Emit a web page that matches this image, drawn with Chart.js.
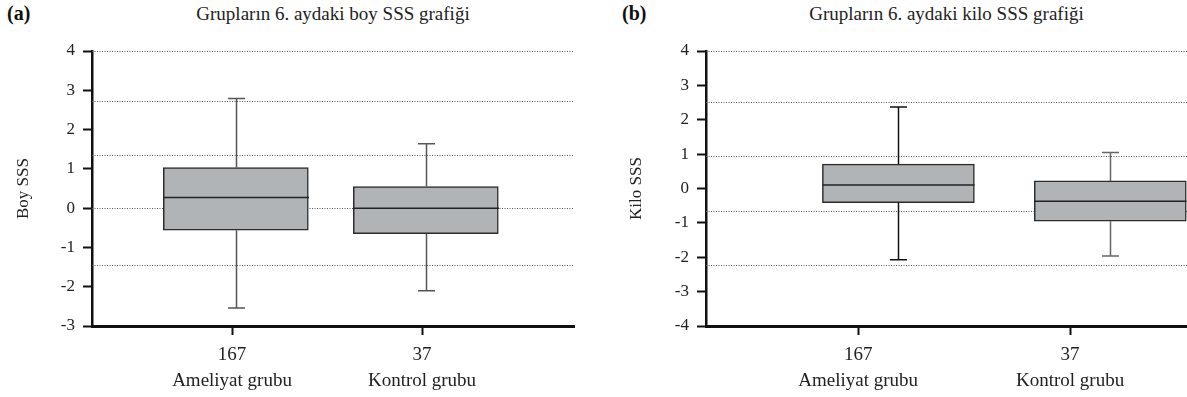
<!DOCTYPE html>
<html lang="tr">
<head>
<meta charset="utf-8">
<title>Grupların 6. aydaki boy ve kilo SSS grafiği</title>
<script src="https://cdn.jsdelivr.net/npm/chart.js@4.4.1/dist/chart.umd.min.js"></script>
<style>
  body { margin: 0; background: #fff; }
  #wrap { position: relative; width: 1187px; height: 397px; overflow: hidden; font-family: "Liberation Serif", serif; color: #222; }
  canvas { position: absolute; top: 0; }
  .tag { position: absolute; top: 2px; font-size: 20px; font-weight: bold; color: #111; }
  .title { position: absolute; top: 3px; font-size: 19px; text-align: center; white-space: nowrap; }
</style>
</head>
<body>
<div id="wrap">
  <div class="tag" style="left:7px">(a)</div>
  <div class="title" style="left:92px;width:482px">Grupların 6. aydaki boy SSS grafiği</div>
  <canvas id="boyChart" width="590" height="397" style="left:0"></canvas>

  <div class="tag" style="left:622px">(b)</div>
  <div class="title" style="left:706px;width:481px">Grupların 6. aydaki kilo SSS grafiği</div>
  <canvas id="kiloChart" width="587" height="397" style="left:600px"></canvas>
</div>

<script>
// ================= DATA =================
const groupLabels = [["167", "Ameliyat grubu"], ["37", "Kontrol grubu"]];

// (a) boy SSS
const boyMin = [-2.54, -2.10];
const boyQ1 = [-0.56, -0.65];
const boyMedian = [0.27, 0.0];
const boyQ3 = [1.03, 0.55];
const boyMax = [2.79, 1.64];
const boyRefLines = [4, 2.72, 1.36, 0, -1.45];

// (b) kilo SSS
const kiloMin = [-2.07, -1.96];
const kiloQ1 = [-0.41, -0.95];
const kiloMedian = [0.10, -0.37];
const kiloQ3 = [0.71, 0.22];
const kiloMax = [2.37, 1.05];
const kiloRefLines = [4, 2.51, 0.94, -0.65, -2.23];

const FONT = "'Liberation Serif', serif";

// ================= BOX PLOT PLUGIN =================
// dotted reference lines go under the boxes, median + whiskers on top
const boxPlot = {
  id: "boxPlot",
  beforeDatasetsDraw(chart, args, opts) {
    const { ctx, chartArea, scales: { y } } = chart;
    ctx.save();
    ctx.lineWidth = 1;
    ctx.strokeStyle = "#555";
    ctx.setLineDash([1, 1.5]);
    opts.refLines.forEach(v => {
      const py = Math.round(y.getPixelForValue(v)) + 0.5;
      ctx.beginPath();
      ctx.moveTo(chartArea.left, py);
      ctx.lineTo(chartArea.right, py);
      ctx.stroke();
    });
    ctx.restore();
  },
  afterDatasetsDraw(chart, args, opts) {
    const { ctx, scales: { y } } = chart;
    const bars = chart.getDatasetMeta(0).data;
    ctx.save();
    ctx.lineWidth = 1.5;
    bars.forEach((bar, i) => {
      const cx = Math.round(bar.x) + 0.5;
      const half = bar.width / 2;

      const med = y.getPixelForValue(opts.median[i]);
      ctx.strokeStyle = "#222";
      ctx.beginPath();
      ctx.moveTo(cx - half, med);
      ctx.lineTo(cx + half, med);
      ctx.stroke();

      const top = y.getPixelForValue(opts.max[i]);
      const q3 = y.getPixelForValue(opts.q3[i]);
      const q1 = y.getPixelForValue(opts.q1[i]);
      const bottom = y.getPixelForValue(opts.min[i]);
      const cap = opts.capWidth / 2;

      ctx.strokeStyle = opts.whiskerColors[i];
      ctx.beginPath();
      ctx.moveTo(cx, q3); ctx.lineTo(cx, top);
      ctx.moveTo(cx - cap, top); ctx.lineTo(cx + cap, top);
      ctx.moveTo(cx, q1); ctx.lineTo(cx, bottom);
      ctx.moveTo(cx - cap, bottom); ctx.lineTo(cx + cap, bottom);
      ctx.stroke();
    });
    ctx.restore();
  }
};

// ================= CHART BUILDER =================
function makeBoxChart(id, cfg) {
  const data = groupLabels.map((_, i) => ({ x: i + cfg.shift, y: [cfg.q1[i], cfg.q3[i]] }));

  return new Chart(document.getElementById(id), {
    type: "bar",
    data: {
      datasets: [{
        data: data,
        backgroundColor: "#b1b4b7",
        borderColor: "#2b2b2b",
        borderWidth: 1.5,
        borderSkipped: false,
        barThickness: cfg.boxWidth
      }]
    },
    plugins: [boxPlot],
    options: {
      responsive: false,
      animation: false,
      layout: { padding: { top: 51, right: cfg.padRight, left: 0, bottom: 0 } },
      plugins: {
        legend: { display: false },
        tooltip: { enabled: false },
        boxPlot: {
          refLines: cfg.refLines,
          median: cfg.median,
          q1: cfg.q1,
          q3: cfg.q3,
          min: cfg.min,
          max: cfg.max,
          capWidth: 17,
          whiskerColors: cfg.whiskerColors
        }
      },
      scales: {
        x: {
          type: "linear",
          offset: false,
          min: cfg.xMin,
          max: cfg.xMax,
          afterBuildTicks: scale => { scale.ticks = groupLabels.map((_, i) => ({ value: i })); },
          afterFit: scale => { scale.height = 71; },
          grid: { offset: false, drawOnChartArea: false, drawTicks: true, tickLength: 9, tickColor: "#111", tickWidth: 2 },
          border: { display: true, color: "#111", width: 3 },
          ticks: {
            autoSkip: false,
            maxRotation: 0,
            padding: 7,
            color: "#222",
            font: { family: FONT, size: 19, lineHeight: 1.37 },
            callback: (v, i) => groupLabels[i]
          }
        },
        y: {
          min: cfg.yMin,
          max: 4,
          afterFit: scale => { scale.width = cfg.yWidth; },
          grid: { drawOnChartArea: false, drawTicks: true, tickLength: 9, tickColor: "#111", tickWidth: 2 },
          border: { display: true, color: "#111", width: 2.5 },
          ticks: {
            stepSize: 1,
            padding: 8,
            color: "#222",
            font: { family: FONT, size: 17 }
          },
          title: {
            display: true,
            text: cfg.yTitle,
            color: "#222",
            font: { family: FONT, size: 17 },
            padding: { top: cfg.titlePad, bottom: 0 }
          }
        }
      }
    }
  });
}

// ================= INIT =================
makeBoxChart("boyChart", {
  q1: boyQ1, q3: boyQ3, median: boyMedian, min: boyMin, max: boyMax,
  refLines: boyRefLines,
  yTitle: "Boy SSS",
  yMin: -3,
  xMin: -0.737, xMax: 1.80,
  shift: 0.02,
  boxWidth: 145,
  yWidth: 92,
  padRight: 16,
  titlePad: 13,
  whiskerColors: ["#555", "#555"]
});

makeBoxChart("kiloChart", {
  q1: kiloQ1, q3: kiloQ3, median: kiloMedian, min: kiloMin, max: kiloMax,
  refLines: kiloRefLines,
  yTitle: "Kilo SSS",
  yMin: -4,
  xMin: -0.718, xMax: 1.552,
  shift: 0.19,
  boxWidth: 152,
  yWidth: 106,
  padRight: 0,
  titlePad: 26,
  whiskerColors: ["#111", "#666"]
});
</script>
</body>
</html>
